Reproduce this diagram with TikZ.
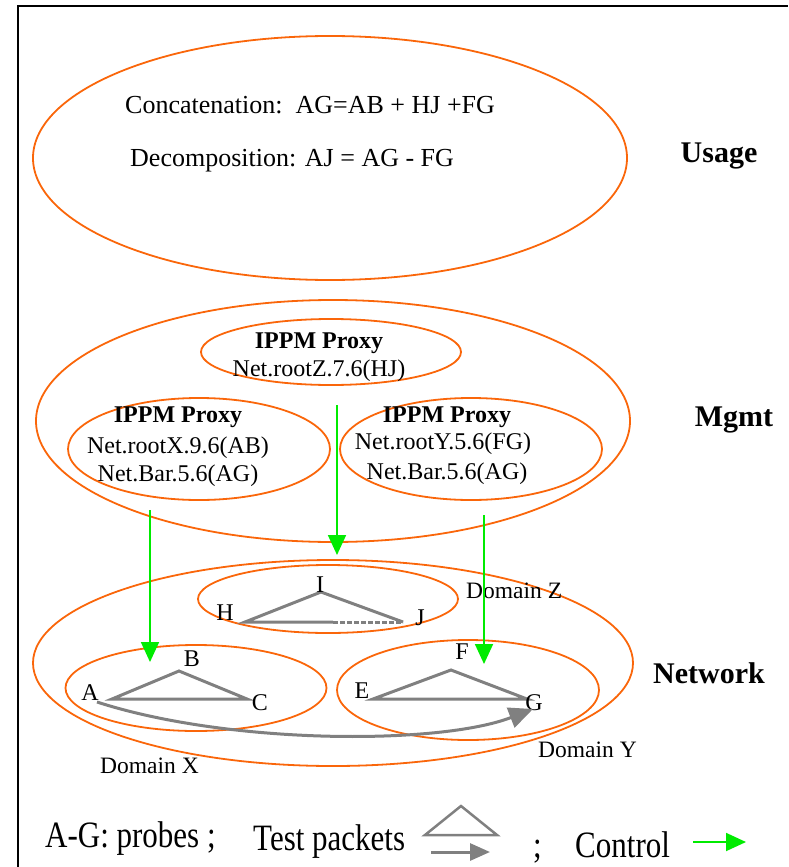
\documentclass[tikz,border=0pt]{standalone}
\usepackage{fontspec}
\setmainfont{Liberation Serif}
\usetikzlibrary{shapes.geometric,arrows.meta}
\definecolor{orng}{RGB}{250,102,10}
\definecolor{grn}{RGB}{0,235,0}
\definecolor{gry}{RGB}{128,128,128}
\begin{document}
\begin{tikzpicture}[x=1pt,y=-1pt,
  oval/.style={ellipse, draw=orng, line width=1.8pt, inner sep=0pt},
  txt/.style={inner sep=0pt, anchor=base, font=\fontsize{24}{28}\selectfont},
  bigtxt/.style={inner sep=0pt, anchor=base west, font=\fontsize{26}{30}\selectfont},
  bold/.style={inner sep=0pt, anchor=base, font=\bfseries\fontsize{24}{28}\selectfont},
  lbl/.style={inner sep=0pt, anchor=base, font=\bfseries\fontsize{30}{34}\selectfont},
  dom/.style={inner sep=0pt, anchor=base west, font=\fontsize{23.5}{27}\selectfont},
  leg/.style={inner sep=0pt, anchor=base west, font=\fontsize{31}{36}\selectfont},
  ctrl/.style={draw=grn, line width=1.8pt, -{Triangle[length=20pt,width=18pt]}},
  tri/.style={draw=gry, line width=3pt, line join=miter},
  pkt/.style={draw=gry, line width=3pt, -{Triangle[length=24pt,width=21pt]}}]
\useasboundingbox (0,0) rectangle (788,867);
% frame
\draw[line width=2.5pt] (18,867) -- (18,6) -- (788,6);

% Usage
\node[oval, minimum width=594, minimum height=244] (usage) at (330,158) {};
\node[bigtxt] (conc) at (125,113) {Concatenation:\ \ AG=AB + HJ +FG};
\node[bigtxt] (deco) at (130,166) {Decomposition: AJ = AG - FG};
\node[lbl] (lusage) at (719,162) {Usage};

% Mgmt
\node[oval, minimum width=594, minimum height=242] (mgmt) at (333,421) {};
\node[oval, minimum width=260, minimum height=66] (pz) at (331,352) {};
\node[oval, minimum width=262, minimum height=102] (px) at (199,449) {};
\node[oval, minimum width=262, minimum height=102] (py) at (471,449) {};
\node[bold] (pzt) at (319,348) {IPPM Proxy};
\node[txt] (pz1) at (319,376) {Net.rootZ.7.6(HJ)};
\node[bold] (pxt) at (178,422) {IPPM Proxy};
\node[txt] (px1) at (178,453) {Net.rootX.9.6(AB)};
\node[txt] (px2) at (178,481) {Net.Bar.5.6(AG)};
\node[bold] (pyt) at (447,422) {IPPM Proxy};
\node[txt] (py1) at (443,449) {Net.rootY.5.6(FG)};
\node[txt] (py2) at (447,479) {Net.Bar.5.6(AG)};
\node[lbl] (lmgmt) at (734,426) {Mgmt};

% Network
\node[oval, minimum width=600, minimum height=206] (net) at (333,663) {};
\node[oval, minimum width=260, minimum height=68] (dz) at (328,599) {};
\node[oval, minimum width=261, minimum height=86] (dx) at (196,688) {};
\node[oval, minimum width=262, minimum height=100] (dy) at (468,690) {};
\node[lbl] (lnet) at (709,683) {Network};
\node[dom] (domz) at (466,598) {Domain Z};
\node[dom] (domx) at (100,773) {Domain X};
\node[dom] (domy) at (538,757) {Domain Y};

% triangles
\coordinate (h) at (245,622); \coordinate (i) at (321,592); \coordinate (j) at (403,622);
\coordinate (hj) at (333,622);
\draw[tri] (hj) -- (h) -- (i) -- (j);
\draw[draw=gry, line width=3pt, dash pattern=on 5pt off 2pt] (hj) -- (j);
\coordinate (a) at (112,699); \coordinate (b) at (179,671); \coordinate (c) at (247,699);
\draw[tri] (a) -- (b) -- (c) -- cycle;
\coordinate (e) at (373,699); \coordinate (f) at (451,670); \coordinate (g) at (527,699);
\draw[tri] (e) -- (f) -- (g) -- cycle;

\node[txt] (lh) at (225,620) {H};
\node[txt] (li) at (320,592) {I};
\node[txt] (lj) at (420,625) {J};
\node[txt] (la) at (90,700) {A};
\node[txt] (lb) at (192,666) {B};
\node[txt] (lc) at (260,710) {C};
\node[txt] (le) at (362,698) {E};
\node[txt] (lf) at (462,659) {F};
\node[txt] (lg) at (534,710) {G};

% test packet path A -> G
\coordinate (as) at (97,702);
\coordinate (ge) at (533,709);
\draw[pkt] (as) .. controls (230,745) and (440,745) .. (ge);

% control arrows
\coordinate (cx1) at (150,510); \coordinate (cx2) at (150,662);
\coordinate (cz1) at (337,405); \coordinate (cz2) at (337,555);
\coordinate (cy1) at (484,515); \coordinate (cy2) at (484,664);
\draw[ctrl] (cx1) -- (cx2);
\draw[ctrl] (cz1) -- (cz2);
\draw[ctrl] (cy1) -- (cy2);

% legend
\node[leg] (lg1) at (45,847) {\scalebox{1}[1.2]{A-G: probes ;}};
\node[leg] (lg2) at (253,850) {\scalebox{1}[1.2]{Test packets}};
\node[leg] (lg3) at (533,857) {\scalebox{1}[1.2]{;}};
\node[leg] (lg4) at (575,857) {\scalebox{1}[1.2]{Control}};
\coordinate (t1) at (425,835); \coordinate (t2) at (461,806); \coordinate (t3) at (497,835);
\draw[draw=gry, line width=2.5pt, line join=miter] (t1) -- (t2) -- (t3) -- cycle;
\coordinate (k1) at (431,852); \coordinate (k2) at (490,852);
\draw[draw=gry, line width=3pt, -{Triangle[length=20pt,width=17pt]}] (k1) -- (k2);
\coordinate (m1) at (693,842); \coordinate (m2) at (746,842);
\draw[ctrl] (m1) -- (m2);
\end{tikzpicture}
\end{document}
